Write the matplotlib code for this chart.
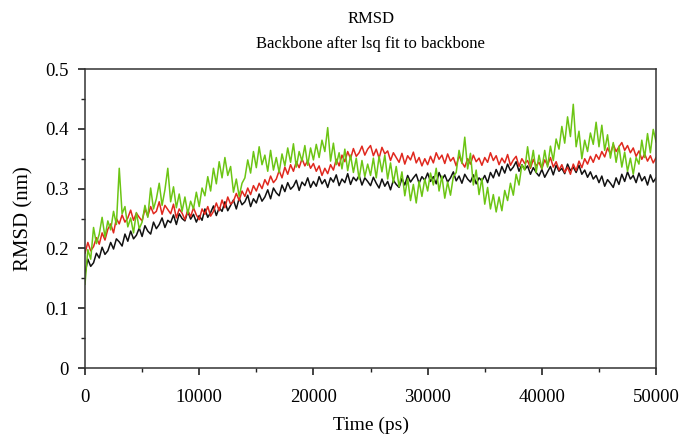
import matplotlib
matplotlib.use("Agg")
import matplotlib.pyplot as plt
import numpy as np
from matplotlib.ticker import MultipleLocator, FuncFormatter

plt.rcParams["font.family"] = ["Liberation Serif", "DejaVu Serif"]

# temps en ps, un point tous les 250 ps
temps = np.arange(0, 50001, 250)

# valeurs (nm)
rmsd_noir = [
    0.158, 0.182, 0.170, 0.176, 0.192, 0.184, 0.202, 0.190, 0.196, 0.210, 0.199, 0.216, 0.211, 0.204, 0.224, 0.212, 0.229, 0.216, 0.222, 0.234,
    0.220, 0.238, 0.229, 0.224, 0.244, 0.233, 0.240, 0.251, 0.235, 0.247, 0.243, 0.256, 0.240, 0.258, 0.250, 0.246, 0.262, 0.249, 0.257, 0.244,
    0.255, 0.247, 0.266, 0.252, 0.260, 0.271, 0.255, 0.268, 0.262, 0.278, 0.263, 0.272, 0.281, 0.266, 0.284, 0.273, 0.278, 0.289, 0.270, 0.283,
    0.276, 0.291, 0.279, 0.286, 0.298, 0.283, 0.301, 0.293, 0.288, 0.306, 0.295, 0.310, 0.299, 0.304, 0.314, 0.297, 0.311, 0.305, 0.318, 0.302,
    0.312, 0.304, 0.320, 0.308, 0.315, 0.302, 0.318, 0.311, 0.323, 0.305, 0.316, 0.310, 0.325, 0.307, 0.319, 0.313, 0.322, 0.306, 0.318, 0.312,
    0.305, 0.319, 0.309, 0.301, 0.316, 0.304, 0.312, 0.298, 0.314, 0.307, 0.302, 0.317, 0.306, 0.322, 0.311, 0.318, 0.324, 0.309, 0.320, 0.314,
    0.326, 0.312, 0.320, 0.308, 0.327, 0.315, 0.323, 0.311, 0.318, 0.328, 0.313, 0.321, 0.309, 0.324, 0.316, 0.311, 0.323, 0.308, 0.318, 0.313,
    0.322, 0.310, 0.327, 0.318, 0.332, 0.321, 0.337, 0.326, 0.341, 0.330, 0.336, 0.345, 0.329, 0.340, 0.332, 0.338, 0.324, 0.335, 0.327, 0.321,
    0.332, 0.319, 0.328, 0.337, 0.323, 0.339, 0.329, 0.334, 0.325, 0.341, 0.330, 0.336, 0.327, 0.339, 0.324, 0.331, 0.319, 0.328, 0.316, 0.322,
    0.310, 0.321, 0.304, 0.315, 0.309, 0.302, 0.318, 0.307, 0.324, 0.312, 0.328, 0.316, 0.322, 0.310, 0.326, 0.313, 0.320, 0.306, 0.323, 0.311,
    0.318,
]

rmsd_rouge = [
    0.192, 0.210, 0.196, 0.203, 0.218, 0.207, 0.226, 0.214, 0.232, 0.241, 0.226, 0.250, 0.241, 0.256, 0.244, 0.251, 0.264, 0.247, 0.259, 0.252,
    0.246, 0.266, 0.254, 0.270, 0.258, 0.262, 0.278, 0.257, 0.272, 0.265, 0.258, 0.274, 0.251, 0.266, 0.259, 0.248, 0.264, 0.253, 0.268, 0.256,
    0.248, 0.266, 0.257, 0.270, 0.254, 0.262, 0.276, 0.263, 0.281, 0.268, 0.286, 0.274, 0.279, 0.292, 0.280, 0.296, 0.287, 0.301, 0.290, 0.305,
    0.296, 0.309, 0.300, 0.315, 0.306, 0.321, 0.310, 0.316, 0.330, 0.318, 0.336, 0.324, 0.340, 0.329, 0.345, 0.335, 0.350, 0.338, 0.347, 0.334,
    0.342, 0.329, 0.338, 0.322, 0.334, 0.325, 0.340, 0.331, 0.349, 0.338, 0.356, 0.345, 0.362, 0.350, 0.367, 0.354, 0.360, 0.371, 0.356, 0.366,
    0.372, 0.355, 0.366, 0.351, 0.369, 0.358, 0.363, 0.347, 0.360, 0.352, 0.344, 0.359, 0.341, 0.355, 0.348, 0.361, 0.343, 0.352, 0.338, 0.350,
    0.340, 0.354, 0.343, 0.360, 0.349, 0.356, 0.342, 0.358, 0.346, 0.352, 0.338, 0.355, 0.344, 0.336, 0.350, 0.341, 0.356, 0.345, 0.351, 0.339,
    0.352, 0.344, 0.360, 0.347, 0.355, 0.340, 0.351, 0.343, 0.357, 0.339, 0.348, 0.354, 0.337, 0.350, 0.342, 0.347, 0.334, 0.349, 0.338, 0.344,
    0.333, 0.348, 0.339, 0.352, 0.336, 0.345, 0.331, 0.340, 0.327, 0.336, 0.324, 0.341, 0.330, 0.346, 0.335, 0.350, 0.341, 0.354, 0.344, 0.357,
    0.349, 0.362, 0.353, 0.368, 0.358, 0.374, 0.362, 0.370, 0.377, 0.364, 0.372, 0.360, 0.368, 0.354, 0.363, 0.349, 0.358, 0.346, 0.355, 0.343,
    0.352,
]

rmsd_vert = [
    0.140, 0.198, 0.182, 0.235, 0.208, 0.224, 0.252, 0.219, 0.246, 0.231, 0.262, 0.240, 0.334, 0.258, 0.270, 0.236, 0.251, 0.226, 0.260, 0.233,
    0.244, 0.272, 0.252, 0.301, 0.266, 0.283, 0.309, 0.272, 0.298, 0.334, 0.278, 0.303, 0.268, 0.291, 0.262, 0.286, 0.258, 0.279, 0.266, 0.294,
    0.270, 0.301, 0.288, 0.320, 0.296, 0.334, 0.308, 0.345, 0.318, 0.352, 0.322, 0.337, 0.294, 0.316, 0.287, 0.309, 0.318, 0.348, 0.326, 0.362,
    0.335, 0.370, 0.340, 0.356, 0.329, 0.364, 0.331, 0.352, 0.327, 0.358, 0.338, 0.368, 0.344, 0.375, 0.336, 0.362, 0.346, 0.372, 0.339, 0.368,
    0.348, 0.374, 0.352, 0.381, 0.362, 0.402, 0.346, 0.376, 0.340, 0.360, 0.333, 0.366, 0.330, 0.356, 0.327, 0.351, 0.316, 0.347, 0.320, 0.341,
    0.322, 0.351, 0.318, 0.354, 0.328, 0.356, 0.316, 0.343, 0.310, 0.337, 0.303, 0.328, 0.288, 0.317, 0.280, 0.307, 0.276, 0.312, 0.287, 0.316,
    0.296, 0.326, 0.306, 0.334, 0.296, 0.321, 0.284, 0.311, 0.289, 0.320, 0.327, 0.364, 0.342, 0.386, 0.333, 0.359, 0.306, 0.331, 0.290, 0.317,
    0.274, 0.302, 0.266, 0.290, 0.261, 0.286, 0.263, 0.297, 0.280, 0.309, 0.289, 0.324, 0.306, 0.340, 0.331, 0.370, 0.336, 0.364, 0.327, 0.356,
    0.333, 0.364, 0.336, 0.371, 0.347, 0.383, 0.366, 0.404, 0.376, 0.420, 0.387, 0.441, 0.370, 0.396, 0.350, 0.381, 0.362, 0.393, 0.374, 0.411,
    0.370, 0.406, 0.364, 0.390, 0.351, 0.377, 0.344, 0.371, 0.336, 0.361, 0.329, 0.351, 0.324, 0.352, 0.341, 0.381, 0.352, 0.392, 0.360, 0.399,
    0.378,
]

fig = plt.figure(figsize=(6.82, 4.34), dpi=100)
ax = fig.add_axes([0.1246, 0.152, 0.8374, 0.689])

# ordre de tracé : noir, rouge puis vert par-dessus
ax.plot(temps, rmsd_noir, color="#111111", lw=1.1)
ax.plot(temps, rmsd_rouge, color="#e0281e", lw=1.1)
ax.plot(temps, rmsd_vert, color="#6cc514", lw=1.1)

ax.set_xlim(0, 50000)
ax.set_ylim(0, 0.5)
ax.xaxis.set_major_locator(MultipleLocator(10000))
ax.xaxis.set_minor_locator(MultipleLocator(5000))
ax.yaxis.set_major_locator(MultipleLocator(0.1))
ax.yaxis.set_minor_locator(MultipleLocator(0.05))
ax.yaxis.set_major_formatter(FuncFormatter(lambda v, p: "0" if abs(v) < 1e-9 else f"{v:.1f}"))

ax.tick_params(which="both", direction="out", top=False, right=False, labelsize=13.5, color="#222222")
ax.tick_params(which="major", length=5, width=1.2)
ax.tick_params(axis="x", which="major", pad=10)
ax.tick_params(axis="y", which="major", pad=7)
ax.tick_params(which="minor", length=3, width=1.0)
for s in ax.spines.values():
    s.set_linewidth(1.1)
    s.set_color("#333333")

ax.set_xlabel("Time (ps)", fontsize=14, labelpad=8)
ax.set_ylabel("RMSD (nm)", fontsize=15, labelpad=8)
ax.set_title("RMSD\nBackbone after lsq fit to backbone", fontsize=12, linespacing=1.75, pad=15)

fig.savefig("out.png", dpi=100)
